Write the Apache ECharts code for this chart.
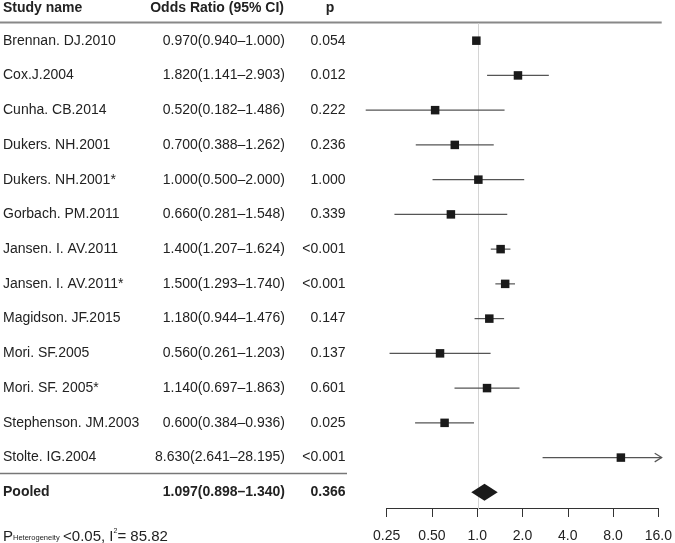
<!DOCTYPE html>
<html>
<head>
<meta charset="utf-8">
<script src="https://cdn.jsdelivr.net/npm/echarts@6/dist/echarts.min.js"></script>
<style>
html,body{margin:0;padding:0;background:#fff;}
#chart{width:675px;height:543px;}
</style>
</head>
<body>
<div id="chart"></div>
<script>
// ---- Data ----
const studyNames = ['Brennan. DJ.2010','Cox.J.2004','Cunha. CB.2014','Dukers. NH.2001','Dukers. NH.2001*','Gorbach. PM.2011','Jansen. I. AV.2011','Jansen. I. AV.2011*','Magidson. JF.2015','Mori. SF.2005','Mori. SF. 2005*','Stephenson. JM.2003','Stolte. IG.2004'];
const oddsRatios = [0.970,1.820,0.520,0.700,1.000,0.660,1.400,1.500,1.180,0.560,1.140,0.600,8.630];
const lowerCI = [0.940,1.141,0.182,0.388,0.500,0.281,1.207,1.293,0.944,0.261,0.697,0.384,2.641];
const upperCI = [1.000,2.903,1.486,1.262,2.000,1.548,1.624,1.740,1.476,1.203,1.863,0.936,28.195];
const orLabels = ['0.970(0.940\u20131.000)','1.820(1.141\u20132.903)','0.520(0.182\u20131.486)','0.700(0.388\u20131.262)','1.000(0.500\u20132.000)','0.660(0.281\u20131.548)','1.400(1.207\u20131.624)','1.500(1.293\u20131.740)','1.180(0.944\u20131.476)','0.560(0.261\u20131.203)','1.140(0.697\u20131.863)','0.600(0.384\u20130.936)','8.630(2.641\u201328.195)'];
const pLabels = ['0.054','0.012','0.222','0.236','1.000','0.339','<0.001','<0.001','0.147','0.137','0.601','0.025','<0.001'];
const pooledName = 'Pooled';
const pooledOR = 1.097, pooledLower = 0.898, pooledUpper = 1.340;
const pooledLabel = '1.097(0.898\u20131.340)';
const pooledP = '0.366';
const tickLabels = ['0.25','0.50','1.0','2.0','4.0','8.0','16.0'];
const headers = ['Study name','Odds Ratio (95% CI)','p'];
const refValue = 1;

// ---- Layout ----
const FONT = '"Liberation Sans", Arial, Helvetica, sans-serif';
const TXT = '#222';
const xLeftAxis = 386.7, xRight = 661.7;
const perDoubling = (xRight - xLeftAxis) / 6;
const gridTop = 23.3, gridHeight = 486.4;
const nRows = studyNames.length + 1;

const studyData = studyNames.map((n, i) => [oddsRatios[i], i, lowerCI[i], upperCI[i]]);
const textData = studyNames.map((n, i) => [1, i, n, orLabels[i], pLabels[i], 0]);
textData.push([1, studyNames.length, pooledName, pooledLabel, pooledP, 1]);

const chart = echarts.init(document.getElementById('chart'), null, {renderer: 'canvas'});

const option = {
  animation: false,
  backgroundColor: '#fff',
  grid: [
    {left: xLeftAxis - perDoubling, right: 675 - xRight, top: gridTop, height: gridHeight},
    {left: xLeftAxis, right: 675 - xRight, top: gridTop, height: gridHeight}
  ],
  xAxis: [
    {type: 'log', logBase: 2, min: 0.125, max: 16, gridIndex: 0, show: false},
    {type: 'log', logBase: 2, min: 0.25, max: 16, gridIndex: 1, position: 'bottom',
     axisLine: {show: true, onZero: false, lineStyle: {color: '#333', width: 1}},
     axisTick: {show: true, length: 9, lineStyle: {color: '#333'}},
     splitLine: {show: false},
     axisLabel: {margin: 21, color: TXT, fontSize: 14, fontFamily: FONT,
       formatter: v => tickLabels[Math.round(Math.log2(v)) + 2]}}
  ],
  yAxis: [
    {type: 'value', inverse: true, min: -0.5, max: nRows - 0.5, gridIndex: 0, show: false},
    {type: 'value', inverse: true, min: -0.5, max: nRows - 0.5, gridIndex: 1, show: false}
  ],
  series: [
    {
      type: 'line', xAxisIndex: 0, yAxisIndex: 0, z: 1,
      data: [], silent: true,
      markLine: {
        silent: true, symbol: 'none', label: {show: false}, z: 1,
        lineStyle: {color: '#d4d4d4', width: 1, type: 'solid'},
        data: [{xAxis: refValue}]
      }
    },
    {
      type: 'custom', xAxisIndex: 0, yAxisIndex: 0, clip: false, z: 5,
      data: studyData,
      encode: {x: 0, y: 1},
      renderItem: function (params, api) {
        const y = api.coord([1, api.value(1)])[1];
        const cx = api.coord([api.value(0), api.value(1)])[0];
        const lx = api.coord([api.value(2), api.value(1)])[0];
        let hx = api.coord([api.value(3), api.value(1)])[0];
        const maxX = params.coordSys.x + params.coordSys.width;
        const children = [];
        let clipped = false;
        if (hx > maxX) { hx = maxX; clipped = true; }
        children.push({type: 'line', shape: {x1: lx, y1: y, x2: hx, y2: y}, style: {stroke: '#555', lineWidth: 1.2}});
        if (clipped) {
          children.push({type: 'polyline', shape: {points: [[hx - 7, y - 4.3], [hx, y], [hx - 7, y + 4.3]]}, style: {stroke: '#555', lineWidth: 1.2, fill: null}});
        }
        children.push({type: 'rect', shape: {x: cx - 4.25, y: y - 4.25, width: 8.5, height: 8.5}, style: {fill: '#1a1a1a'}});
        return {type: 'group', children: children};
      }
    },
    {
      type: 'custom', xAxisIndex: 0, yAxisIndex: 0, clip: false, z: 5,
      data: [[pooledOR, studyNames.length, pooledLower, pooledUpper]],
      encode: {x: 0, y: 1},
      renderItem: function (params, api) {
        const y = api.coord([1, api.value(1)])[1];
        const cx = api.coord([api.value(0), api.value(1)])[0];
        const lx = api.coord([api.value(2), api.value(1)])[0];
        const hx = api.coord([api.value(3), api.value(1)])[0];
        return {type: 'polygon', shape: {points: [[lx, y], [cx, y - 8.5], [hx, y], [cx, y + 8.5]]}, style: {fill: '#1a1a1a'}};
      }
    },
    {
      type: 'custom', xAxisIndex: 0, yAxisIndex: 0, clip: false, z: 5,
      data: textData,
      encode: {x: 0, y: 1},
      renderItem: function (params, api) {
        const idx = params.dataIndex;
        const row = textData[idx];
        const y = api.coord([1, row[1]])[1];
        const bold = row[5] ? 'bold' : 'normal';
        const mk = (x, text, align) => ({
          type: 'text', x: x, y: y,
          style: {text: text, fill: TXT, font: bold + ' 14px ' + FONT, textAlign: align, textVerticalAlign: 'middle'}
        });
        return {type: 'group', children: [mk(3, row[2], 'left'), mk(285, row[3], 'right'), mk(345.5, row[4], 'right')]};
      }
    }
  ],
  graphic: [
    {type: 'text', x: 3, y: 8, style: {text: headers[0], font: 'bold 14px ' + FONT, fill: TXT, textAlign: 'left', textVerticalAlign: 'middle'}},
    {type: 'text', x: 284, y: 8, style: {text: headers[1], font: 'bold 14px ' + FONT, fill: TXT, textAlign: 'right', textVerticalAlign: 'middle'}},
    {type: 'text', x: 330, y: 8, style: {text: headers[2], font: 'bold 14px ' + FONT, fill: TXT, textAlign: 'center', textVerticalAlign: 'middle'}},
    {type: 'line', shape: {x1: 0, y1: 22.5, x2: xRight, y2: 22.5}, style: {stroke: '#888', lineWidth: 2}},
    {type: 'line', shape: {x1: 0, y1: 473.5, x2: 347, y2: 473.5}, style: {stroke: '#777', lineWidth: 1.5}},
    {type: 'text', x: 3, y: 535, style: {
      text: '{p|P}{s|Heterogeneity} {n|<0.05, I}{u|2}{n|= 85.82}',
      textVerticalAlign: 'middle',
      rich: {
        p: {fontSize: 15, fontFamily: FONT, fill: TXT, color: TXT, lineHeight: 18, verticalAlign: 'bottom'},
        s: {fontSize: 7.5, fontFamily: FONT, fill: TXT, color: TXT, lineHeight: 18, verticalAlign: 'bottom', padding: [0, 0, 2, 0]},
        n: {fontSize: 15, fontFamily: FONT, fill: TXT, color: TXT, lineHeight: 18, verticalAlign: 'bottom'},
        u: {fontSize: 7, fontFamily: FONT, fill: TXT, color: TXT, lineHeight: 18, verticalAlign: 'top', padding: [2, 0, 0, 0]}
      }
    }}
  ]
};
chart.setOption(option);
</script>
</body>
</html>
